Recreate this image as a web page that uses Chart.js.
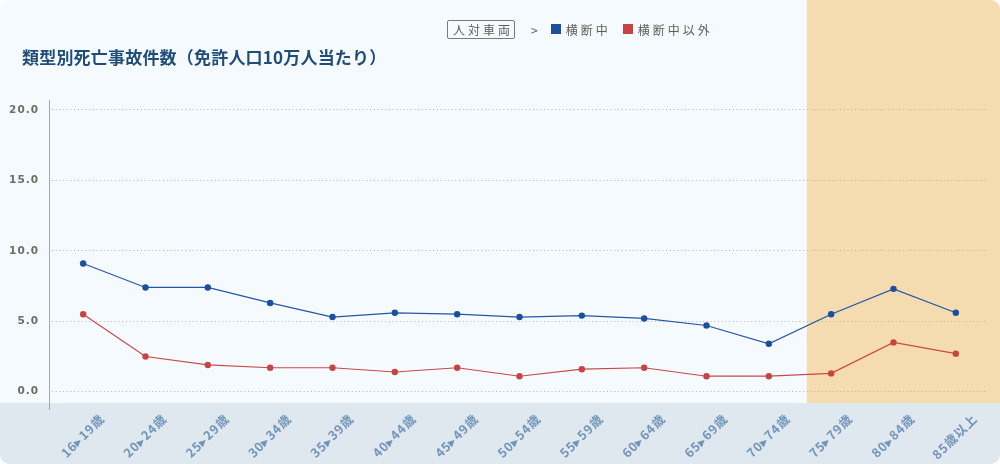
<!DOCTYPE html>
<html lang="ja">
<head>
<meta charset="utf-8">
<script src="https://cdn.jsdelivr.net/npm/chart.js@4.4.1/dist/chart.umd.min.js"></script>
<style>
  html, body { margin: 0; padding: 0; background: #ffffff; }
  #card {
    position: relative; width: 1000px; height: 464px;
    background: #f5faff; border-radius: 9px; overflow: hidden;
    font-family: "Noto Sans CJK JP", "Noto Sans", sans-serif;
  }
  #chart { position: absolute; left: 0; top: 0; }
  #title {
    position: absolute; left: 22px; top: 44px; margin: 0;
    font-size: 17px; font-weight: 700; color: #1f4d78; letter-spacing: 0.2px;
  }
  #legend {
    position: absolute; left: 447px; top: 19px; height: 20px;
    display: flex; align-items: center; font-size: 12px; color: #5d5d55; letter-spacing: 3px;
  }
  #legend .tag { border: 1px solid #7a7a70; border-radius: 2px; padding: 0 1px 0 5px; line-height: 17px; }
  #legend .sep { margin: 0 10px 0 16px; }
  #legend .sw { width: 10px; height: 10px; margin-right: 5px; display: inline-block; }
</style>
</head>
<body>
<div id="card">
  <canvas id="chart" width="1000" height="464"></canvas>
  <div id="title">類型別死亡事故件数（免許人口10万人当たり）</div>
  <div id="legend">
    <span class="tag">人対車両</span>
    <span class="sep">&gt;</span>
    <span class="sw" style="background:#1c4f9e"></span><span style="margin-right:12px">横断中</span>
    <span class="sw" style="background:#c84444"></span><span>横断中以外</span>
  </div>
</div>
<script>
// 年齢区分
const ageGroups = ['16▸19歳', '20▸24歳', '25▸29歳', '30▸34歳', '35▸39歳', '40▸44歳', '45▸49歳',
  '50▸54歳', '55▸59歳', '60▸64歳', '65▸69歳', '70▸74歳', '75▸79歳', '80▸84歳', '85歳以上'];

// 横断中
const crossingValues = [9.1, 7.4, 7.4, 6.3, 5.3, 5.6, 5.5, 5.3, 5.4, 5.2, 4.7, 3.4, 5.5, 7.3, 5.6];
// 横断中以外
const otherValues = [5.5, 2.5, 1.9, 1.7, 1.7, 1.4, 1.7, 1.1, 1.6, 1.7, 1.1, 1.1, 1.3, 3.5, 2.7];

// 目盛り
const yTickValues = [0, 5, 10, 15, 20];

// 高齢者区分（75歳以上）の開始位置
const elderlyStartIndex = 12;

const bgPlugin = {
  id: 'bands',
  beforeDraw(chart) {
    const ctx = chart.ctx;
    const area = chart.chartArea;
    const x = chart.scales.x;
    const px11 = x.getPixelForValue(elderlyStartIndex - 1);
    const px12 = x.getPixelForValue(elderlyStartIndex);
    const bandLeft = px11 + (px12 - px11) * 0.61;
    ctx.save();
    ctx.fillStyle = '#f5dbb0';
    ctx.fillRect(bandLeft, 0, chart.width - bandLeft, area.bottom);
    ctx.fillStyle = '#e0e8ef';
    ctx.fillRect(0, area.bottom, chart.width, chart.height - area.bottom);
    ctx.restore();
    // 目盛り文字の字間
    ctx.letterSpacing = '1px';
  },
  beforeDatasetsDraw(chart) {
    // 縦軸の線
    const ctx = chart.ctx;
    const area = chart.chartArea;
    ctx.save();
    ctx.strokeStyle = '#a8a8a8';
    ctx.lineWidth = 1;
    ctx.beginPath();
    ctx.moveTo(area.left - 2.5, area.top);
    ctx.lineTo(area.left - 2.5, area.bottom + 7);
    ctx.stroke();
    ctx.restore();
  }
};

new Chart(document.getElementById('chart'), {
  type: 'line',
  data: {
    labels: ageGroups,
    datasets: [
      {
        label: '横断中',
        data: crossingValues,
        borderColor: '#2456a6',
        backgroundColor: '#1c4f9e',
        borderWidth: 1.2,
        pointRadius: 3.2,
        pointHoverRadius: 3.2,
        pointBorderWidth: 0,
        tension: 0
      },
      {
        label: '横断中以外',
        data: otherValues,
        borderColor: '#c94848',
        backgroundColor: '#c84444',
        borderWidth: 1.2,
        pointRadius: 3.2,
        pointHoverRadius: 3.2,
        pointBorderWidth: 0,
        tension: 0
      }
    ]
  },
  options: {
    responsive: false,
    animation: false,
    devicePixelRatio: 1,
    layout: { padding: { top: 100, right: 13, left: 0, bottom: 0 } },
    plugins: { legend: { display: false }, tooltip: { enabled: false } },
    scales: {
      x: {
        offset: true,
        grid: { display: false },
        border: { display: false },
        ticks: {
          minRotation: 45,
          maxRotation: 45,
          autoSkip: false,
          color: '#7195b9',
          padding: 0,
          labelOffset: 19,
          font: { family: '"Noto Sans CJK JP", sans-serif', size: 12.5, weight: 'bold' }
        },
        afterFit(scale) { scale.height = 61; }
      },
      y: {
        min: -0.8,
        max: 20.7,
        afterBuildTicks(scale) { scale.ticks = yTickValues.map(v => ({ value: v })); },
        grid: {
          color: '#b4b4ac',
          lineWidth: 1,
          drawTicks: false
        },
        border: { display: false, dash: [1, 2.7] },
        ticks: {
          color: '#6d6d62',
          padding: 13,
          font: { family: '"DejaVu Sans", sans-serif', size: 10.5, weight: 'bold' },
          callback: v => v.toFixed(1)
        },
        afterFit(scale) { scale.width = 52; }
      }
    }
  },
  plugins: [bgPlugin]
});
</script>
</body>
</html>
